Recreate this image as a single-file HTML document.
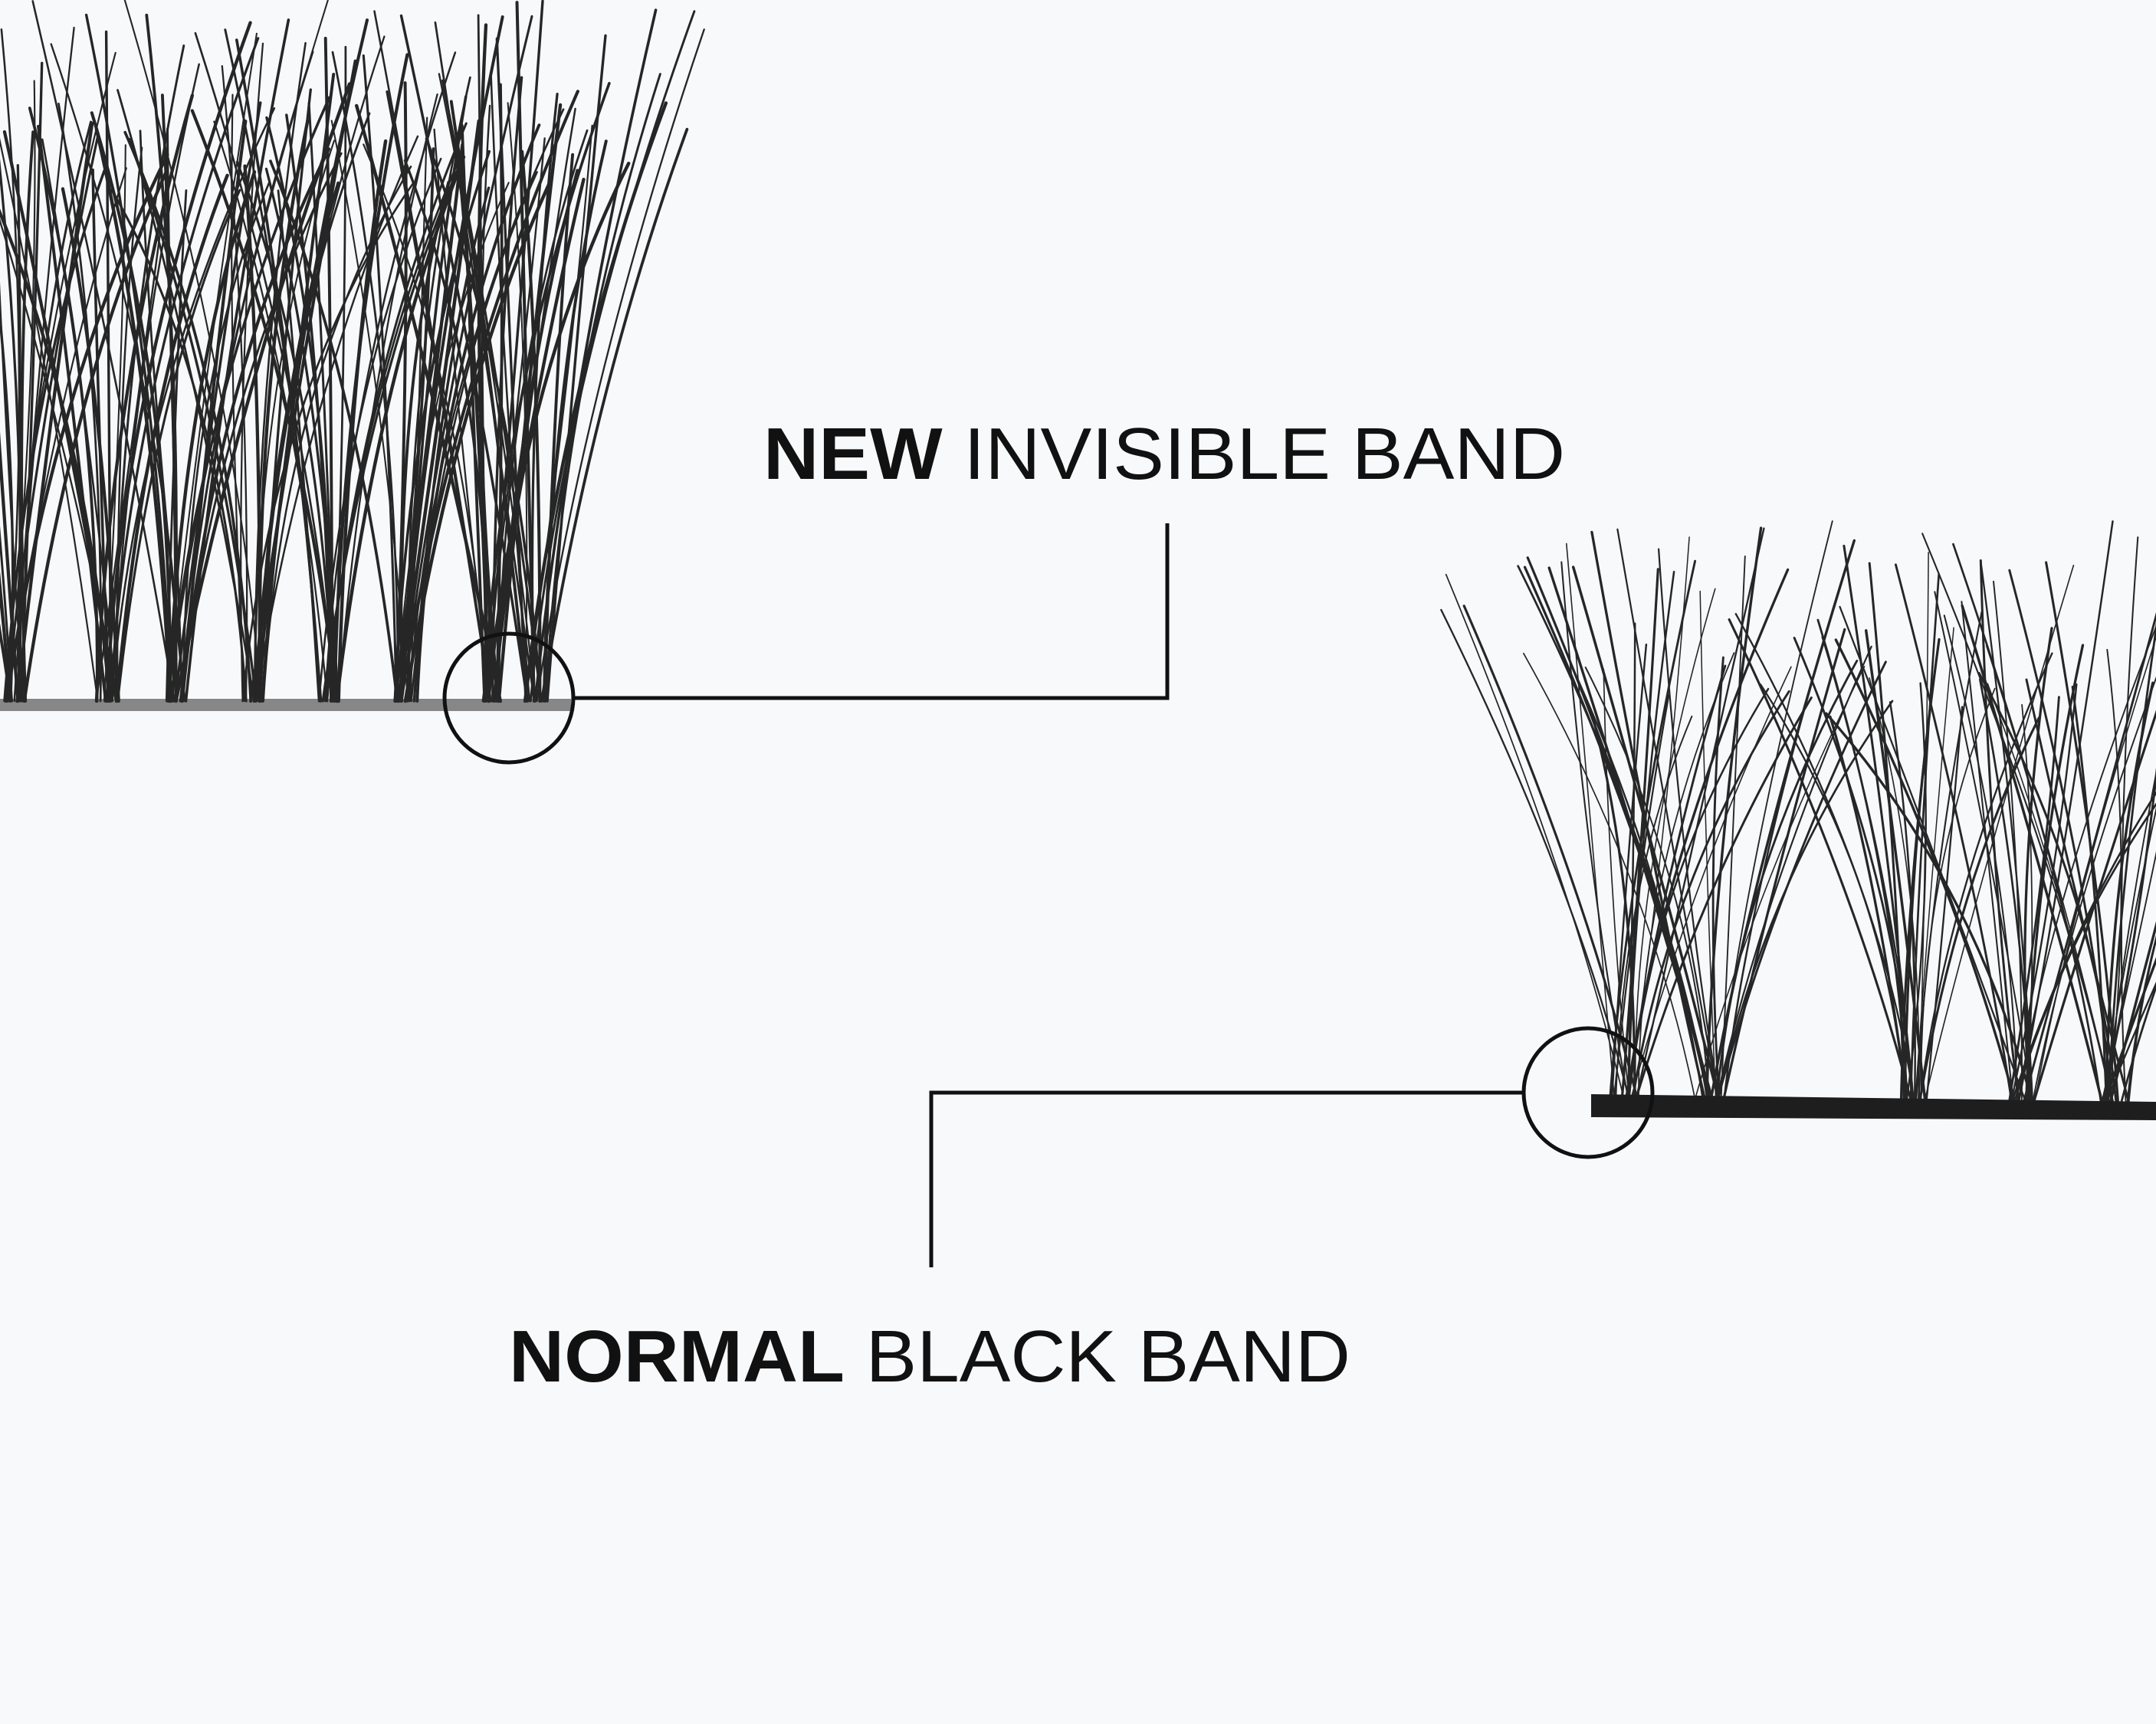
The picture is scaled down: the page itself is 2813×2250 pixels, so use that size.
<!DOCTYPE html>
<html><head><meta charset="utf-8"><style>
html,body{margin:0;padding:0;background:#f8f9fb;}
svg{display:block;}
</style></head><body>
<svg id="s" width="2813" height="2250" viewBox="0 0 2813 2250" xmlns="http://www.w3.org/2000/svg">
<rect width="2813" height="2250" fill="#f8f9fb"/>
<g id="lash" fill="none" stroke="#262626" stroke-linecap="round"></g>
<!-- left band -->
<rect x="0" y="912" width="745" height="16" fill="#2a2a2a" opacity="0.55"/>
<!-- right band -->
<path d="M2076 1428 L2813 1438 L2813 1462 L2076 1458 Z" fill="#1e1e1e"/>
<!-- callouts -->
<g fill="none" stroke="#111" stroke-width="5">
<circle cx="664" cy="911" r="84"/>
<polyline points="750,911 1523,911 1523,683"/>
<circle cx="2072" cy="1426" r="84"/>
<polyline points="1988,1426 1215,1426 1215,1654"/>
</g>
<text x="996" y="625" font-family="Liberation Sans, sans-serif" font-size="96" fill="#111" textLength="1046" lengthAdjust="spacingAndGlyphs"><tspan font-weight="bold">NEW</tspan> INVISIBLE BAND</text>
<text x="664" y="1803" font-family="Liberation Sans, sans-serif" font-size="96" fill="#111" textLength="1098" lengthAdjust="spacingAndGlyphs"><tspan font-weight="bold">NORMAL</tspan> BLACK BAND</text>
</svg>
<script>
(function(){
var seed=7;function r(){seed=(seed*16807)%2147483647;return (seed-1)/2147483646;}
var g=document.getElementById('lash');var out='';
function hair(x0,y0,x1,y1,cx,cy,w){out+='<path d="M'+x0.toFixed(1)+' '+y0+' Q'+cx.toFixed(1)+' '+cy.toFixed(1)+' '+x1.toFixed(1)+' '+y1.toFixed(1)+'" stroke-width="'+w+'"/>';}
var L=[20,140,230,330,430,530,640,700];
L.forEach(function(b){for(var i=0;i<22;i++){var dx=(r()-0.45)*420;var top=r()*250;var x1=b+dx;hair(b+(r()-0.5)*30,915,x1,top,b+dx*0.25+(r()-0.5)*60,500,2+r()*2.5);}});
var R=[2120,2230,2500,2640,2760];
R.forEach(function(b){for(var i=0;i<24;i++){var dx=(r()-0.5)*520;var top=680+r()*260;var x1=b+dx;hair(b+(r()-0.5)*40,1440,x1,top,b+dx*0.3+(r()-0.5)*60,1150,1.5+r()*2);}});
g.innerHTML=out;
})();
</script>
</body></html>
